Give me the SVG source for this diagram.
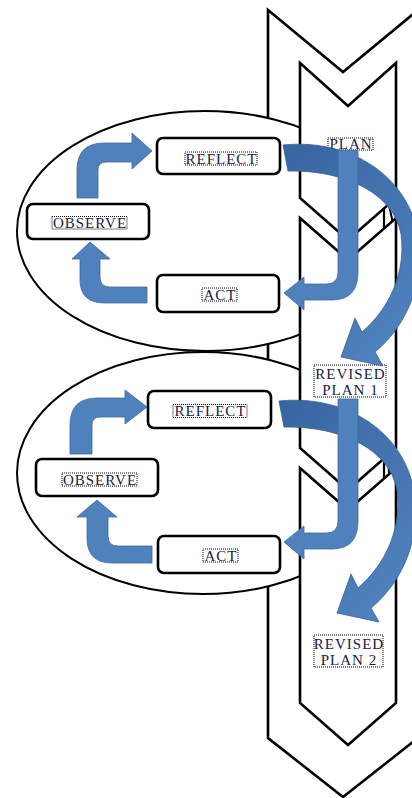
<svg xmlns="http://www.w3.org/2000/svg" width="412" height="798" viewBox="0 0 412 798">
<defs>
<style>
.outline{fill:#fff;stroke:#000;stroke-width:2.6;stroke-linejoin:miter}
.ell{fill:#fff;stroke:#000;stroke-width:2}
.box{fill:#fff;stroke:#000;stroke-width:2.6}
.lbl{font-family:"Liberation Serif","Times New Roman",serif;font-size:15px;letter-spacing:1px;fill:#1a1a40;text-anchor:middle}
.dot{fill:none;stroke:#000;stroke-width:1;stroke-dasharray:1 1}
.blue{fill:#4F81BD;stroke:#3d6a9f;stroke-width:0.8}
.arc{fill:url(#arcg);stroke:#355f94;stroke-width:0.8}
.seg{stroke:#000;stroke-width:2.2}
</style>
<linearGradient id="arcg" x1="0" y1="0" x2="0.6" y2="1">
<stop offset="0" stop-color="#38659f"/>
<stop offset="1" stop-color="#4F81BD"/>
</linearGradient>
</defs>
<rect width="412" height="798" fill="#fff"/>
<g id="outer-chevron"><polygon class="outline" points="268,10 343,72 418,10 418,738 343,797 268,738"/></g>
<g id="cycle1"><ellipse class="ell" cx="205" cy="231" rx="188" ry="120"/></g>
<g id="cycle2"><ellipse class="ell" cx="203" cy="473" rx="186" ry="121"/></g>
<g id="chevron1"><polygon class="outline" points="300,63 348,106 396,63 396,198 348,240 300,198"/></g>
<g id="chevron2"><polygon class="outline" points="300,218 348,260 396,218 396,448 348,490 300,448"/></g>
<g id="chevron3"><polygon class="outline" points="300,468 348,510 396,468 396,703 348,745 300,703"/></g>
<g id="ties"><line class="seg" x1="384" y1="208.5" x2="384" y2="228.5"/><line class="seg" x1="384" y1="458.5" x2="384" y2="478.5"/></g>
<g id="reflect1"><rect class="box" x="157" y="138" width="123" height="36" rx="6"/><rect class="dot" x="185" y="152" width="72" height="13"/><text class="lbl" x="221.5" y="163.5">REFLECT</text></g>
<g id="observe1"><rect class="box" x="27" y="204" width="122" height="35" rx="6"/><rect class="dot" x="52" y="216.5" width="75" height="12.5"/><text class="lbl" x="90" y="227.5">OBSERVE</text></g>
<g id="act1"><rect class="box" x="157" y="275" width="122" height="37" rx="6"/><rect class="dot" x="202" y="288" width="35" height="13"/><text class="lbl" x="220" y="299.5">ACT</text></g>
<g id="reflect2"><rect class="box" x="148" y="391" width="123" height="37" rx="6"/><rect class="dot" x="173" y="404.5" width="74" height="13"/><text class="lbl" x="210.5" y="416">REFLECT</text></g>
<g id="observe2"><rect class="box" x="36" y="459" width="122" height="37" rx="6"/><rect class="dot" x="62" y="473" width="75" height="13"/><text class="lbl" x="100" y="484.5">OBSERVE</text></g>
<g id="act2"><rect class="box" x="158" y="536" width="122" height="37" rx="6"/><rect class="dot" x="203" y="549" width="35" height="13"/><text class="lbl" x="221" y="560.5">ACT</text></g>
<g id="plan"><rect class="dot" x="328" y="138" width="45" height="12"/><text class="lbl" x="351" y="148.5">PLAN</text></g>
<g id="revised-plan-1"><rect class="dot" x="314" y="365" width="72" height="32"/><text class="lbl" x="350.5" y="378.5">REVISED</text><text class="lbl" x="350.5" y="394.5">PLAN 1</text></g>
<g id="revised-plan-2"><rect class="dot" x="314" y="635" width="69" height="32"/><text class="lbl" x="349" y="648.5">REVISED</text><text class="lbl" x="349" y="664.5">PLAN 2</text></g>
<g id="connectors">
<path class="blue" d="M77,198 L77,170 Q77,143 104,143 L132,143 L132,133 L152,151 L132,169 L132,162 L106,162 Q98,162 98,170 L98,198 Z"/>
<path class="blue" d="M147,287 L110,287 Q100,287 100,277 L100,259 L110,259 L90,242 L72,259 L80,259 L80,280 Q80,303 105,303 L147,303 Z"/>
<path class="arc" d="M283,145 C352,138 412,178 419,242 C424,290 402,330 375,352 L383,366 L341,357 L355,318 L362,332 C390,308 406,272 401,234 C394,195 348,170 288,171 Z"/>
<path class="blue" d="M338,150 L358,150 L358,272 Q358,300 332,300 L304,300 L304,310 L284,293 L304,277 L304,284 L326,284 Q338,284 338,272 Z"/>
<path class="blue" d="M70,454 L70,425 Q70,398 97,398 L125,398 L125,390 L147,407 L125,424 L125,417 L100,417 Q92,417 92,425 L92,454 Z"/>
<path class="blue" d="M152,546 L118,546 Q108,546 108,536 L108,517 L117,517 L97,500 L77,517 L87,517 L87,538 Q87,563 112,563 L152,563 Z"/>
<path class="arc" transform="translate(-4,256)" d="M283,145 C352,138 412,178 419,242 C424,290 402,330 375,352 L383,366 L341,357 L355,318 L362,332 C390,308 406,272 401,234 C394,195 348,170 288,171 Z"/>
<path class="blue" transform="translate(0,249)" d="M338,150 L358,150 L358,272 Q358,300 332,300 L304,300 L304,310 L284,293 L304,277 L304,284 L326,284 Q338,284 338,272 Z"/>
</g>
</svg>
